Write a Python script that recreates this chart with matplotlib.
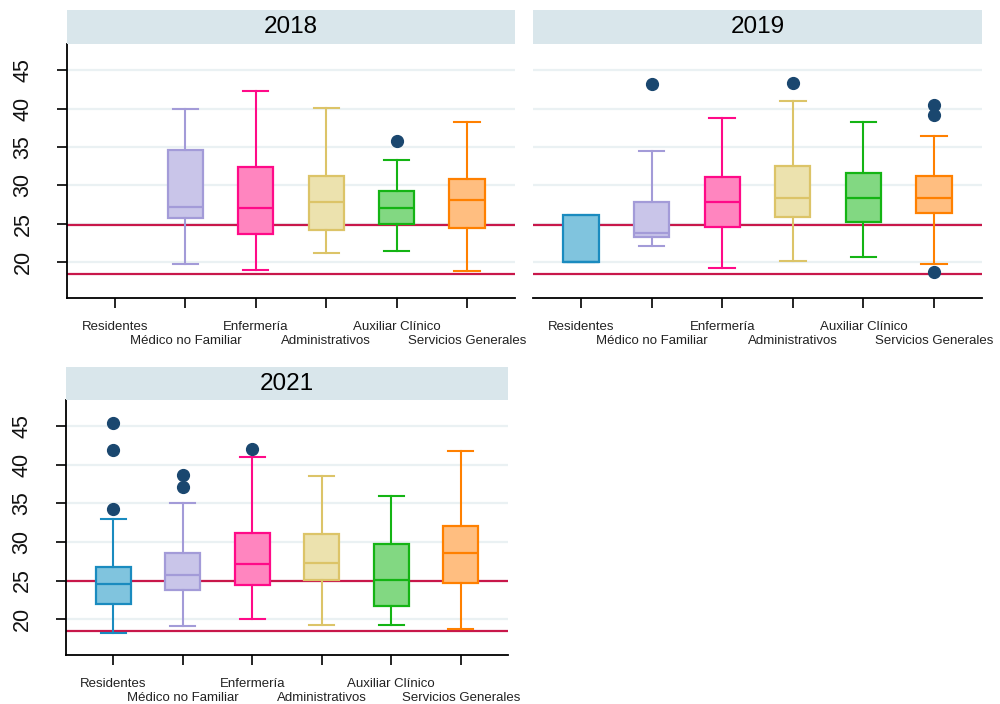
import matplotlib
matplotlib.use("Agg")
import matplotlib.pyplot as plt
from matplotlib.patches import Rectangle

plt.rcParams['font.family'] = ['Liberation Sans', 'DejaVu Sans']

# Occupational groups (x categories)
groups = ["Residentes", "Médico no Familiar", "Enfermería",
          "Administrativos", "Auxiliar Clínico", "Servicios Generales"]

# Box statistics per year: whisker low, Q1, median, Q3, whisker high, outliers
# None = no data for that group in that year
low_2018 = [None, 19.8, 19.0, 21.2, 21.5, 18.9]
q1_2018 = [None, 25.8, 23.7, 24.2, 25.0, 24.4]
med_2018 = [None, 27.2, 27.1, 27.8, 27.0, 28.1]
q3_2018 = [None, 34.6, 32.4, 31.2, 29.3, 30.8]
high_2018 = [None, 40.0, 42.3, 40.1, 33.3, 38.2]
out_2018 = [[], [], [], [], [35.8], []]

low_2019 = [20.0, 22.1, 19.3, 20.1, 20.7, 19.8]
q1_2019 = [20.0, 23.3, 24.6, 25.9, 25.2, 26.4]
med_2019 = [20.0, 23.8, 27.9, 28.4, 28.4, 28.4]
q3_2019 = [26.1, 27.9, 31.1, 32.5, 31.6, 31.2]
high_2019 = [26.1, 34.5, 38.8, 41.0, 38.2, 36.4]
out_2019 = [[], [43.2], [], [43.3], [], [40.5, 39.1, 18.7]]

low_2021 = [18.2, 19.1, 20.0, 19.2, 19.3, 18.7]
q1_2021 = [21.9, 23.8, 24.4, 25.1, 21.7, 24.7]
med_2021 = [24.5, 25.7, 27.2, 27.3, 25.1, 28.6]
q3_2021 = [26.7, 28.6, 31.1, 31.0, 29.8, 32.1]
high_2021 = [33.0, 35.0, 41.0, 38.6, 35.9, 41.8]
out_2021 = [[45.4, 41.9, 34.3], [38.7, 37.1], [42.1], [], [], []]

# Reference lines (BMI thresholds)
ref_lines = [18.5, 24.9]
y_ticks = [20, 25, 30, 35, 40, 45]

edge_colors = ["#1a8bbf", "#a39bd8", "#ff0a88", "#dcc468", "#14b414", "#ff8000"]
fill_colors = ["#80c4de", "#c9c5e9", "#ff85bf", "#ece2ae", "#82d882", "#ffbe80"]
outlier_color = "#1a476f"
ref_color = "#c8174a"
strip_color = "#d9e6eb"
grid_color = "#eaf1f3"

W, H = 1000, 704
fig = plt.figure(figsize=(W / 100, H / 100), dpi=100)
fig.patch.set_facecolor("white")


def px_axes(x0, y0, x1, y1):
    return fig.add_axes([x0 / W, 1 - y1 / H, (x1 - x0) / W, (y1 - y0) / H])


def draw_panel(box, strip_top, year, lows, q1s, meds, q3s, highs, outs, show_y):
    x0, y0, x1, y1 = box
    # strip header
    fig.patches.append(Rectangle((x0 / W, 1 - y0 / H), (x1 - x0) / W,
                                 (y0 - strip_top) / H, transform=fig.transFigure,
                                 facecolor=strip_color, edgecolor="none"))
    fig.text((x0 + x1) / 2 / W, 1 - (strip_top + y0) / 2 / H, year,
             ha="center", va="center", fontsize=17.5, color="black")

    ax = px_axes(x0, y0, x1, y1)
    ax.set_xlim(0.32, 6.68)
    ax.set_ylim(15.35, 48.4)
    for yt in y_ticks:
        ax.axhline(yt, color=grid_color, lw=1.6, zorder=0)
    for r in ref_lines:
        ax.axhline(r, color=ref_color, lw=1.6, zorder=1)

    for i in range(len(groups)):
        if meds[i] is None:
            continue
        st = dict(whislo=lows[i], q1=q1s[i], med=meds[i], q3=q3s[i],
                  whishi=highs[i], fliers=outs[i])
        ec = edge_colors[i]
        ax.bxp([st], positions=[i + 1], widths=0.5, patch_artist=True,
               showfliers=True, manage_ticks=False,
               boxprops=dict(facecolor=fill_colors[i], edgecolor=ec, linewidth=1.6),
               medianprops=dict(color=ec, linewidth=1.6),
               whiskerprops=dict(color=ec, linewidth=1.5),
               capprops=dict(color=ec, linewidth=1.5),
               capwidths=0.36,
               flierprops=dict(marker="o", markerfacecolor=outlier_color,
                               markeredgecolor=outlier_color, markersize=8.5))

    ax.set_xticks(range(1, 7))
    ax.set_xticklabels([])
    ax.tick_params(axis="x", length=7, width=1.2, color="black")
    for i, g in enumerate(groups):
        off = 0.113 if i % 2 == 0 else 0.168
        ax.text(i + 1, -off, g, transform=ax.get_xaxis_transform(),
                ha="center", va="center", fontsize=9.5, color="#222222")

    ax.spines["top"].set_visible(False)
    ax.spines["right"].set_visible(False)
    ax.spines["bottom"].set_linewidth(1.3)
    if show_y:
        ax.spines["left"].set_linewidth(1.3)
        ax.set_yticks(y_ticks)
        ax.set_yticklabels([str(t) for t in y_ticks], rotation=90,
                           va="center", fontsize=15.5, color="#111111")
        ax.tick_params(axis="y", length=7, width=1.2, pad=17)
    else:
        ax.spines["left"].set_visible(False)
        ax.set_yticks([])
    ax.set_facecolor("white")
    return ax


draw_panel((67, 44, 515, 298), 10, "2018", low_2018, q1_2018, med_2018,
           q3_2018, high_2018, out_2018, True)
draw_panel((533, 44, 982, 298), 10, "2019", low_2019, q1_2019, med_2019,
           q3_2019, high_2019, out_2019, False)
draw_panel((66, 400, 508, 655), 367, "2021", low_2021, q1_2021, med_2021,
           q3_2021, high_2021, out_2021, True)

fig.savefig("out.png", dpi=100)
